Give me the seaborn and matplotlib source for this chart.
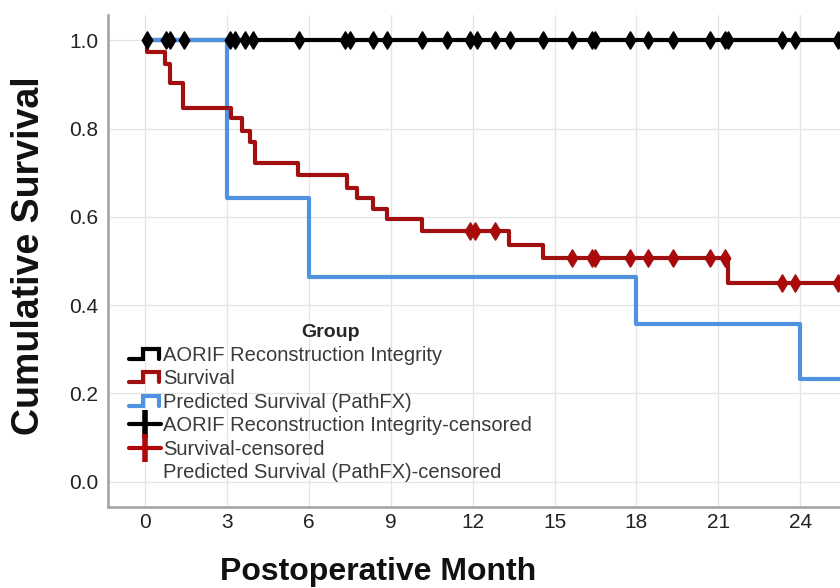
import matplotlib
matplotlib.use("Agg")
import matplotlib.pyplot as plt
import numpy as np
import pandas as pd
import seaborn as sns
from matplotlib.legend_handler import HandlerBase
from matplotlib.lines import Line2D

# Kaplan-Meier step data (months, cumulative survival)
aorif_times = [0, 25.6]
aorif_surv = [1.0, 1.0]
aorif_censored = [0.07, 0.78, 0.92, 1.42, 3.11, 3.3, 3.66, 3.97, 5.62, 7.33, 7.51,
                  8.36, 8.85, 10.13, 11.05, 11.9, 12.15, 12.82, 13.37, 14.59, 15.63,
                  16.36, 16.48, 17.77, 18.44, 19.35, 20.7, 21.25, 21.37, 23.32, 23.81, 25.4]

surv_times = [0, 0.06, 0.73, 0.92, 1.40, 3.14, 3.54, 3.85, 4.03, 5.60, 7.39, 7.75,
              8.36, 8.85, 10.15, 13.35, 14.59, 21.37, 25.6]
surv_vals = [1.0, 0.974, 0.947, 0.902, 0.847, 0.823, 0.795, 0.770, 0.721, 0.695, 0.666,
             0.642, 0.617, 0.594, 0.568, 0.537, 0.506, 0.451, 0.451]
surv_censored = [11.9, 12.1, 12.82, 15.63, 16.36, 16.48, 17.77, 18.44, 19.35, 20.7,
                 21.25, 23.32, 23.81, 25.4]

pathfx_times = [0, 3.0, 6.0, 18.0, 24.0, 25.6]
pathfx_vals = [1.0, 0.643, 0.464, 0.357, 0.232, 0.232]

x_ticks = [0, 3, 6, 9, 12, 15, 18, 21, 24]
y_ticks = [0.0, 0.2, 0.4, 0.6, 0.8, 1.0]

BLACK = "#000000"
RED = "#a01010"
RED_MARK = "#b00808"
BLUE = "#5092e0"


def step_value(times, vals, t):
    idx = np.searchsorted(times, t, side="right") - 1
    return np.array(vals)[idx]


class StepHandler(HandlerBase):
    def create_artists(self, legend, orig_handle, xdescent, ydescent, width, height,
                       fontsize, trans):
        xs = np.array([0.0, 0.45, 0.45, 0.95, 0.95]) * width - xdescent
        ys = np.array([0.15, 0.15, 0.85, 0.85, 0.15]) * height - ydescent
        line = Line2D(xs, ys, color=orig_handle.get_color(), lw=3, solid_joinstyle="miter")
        line.set_transform(trans)
        return [line]


sns.set_style("whitegrid")
plt.rcParams['font.family'] = ['Liberation Sans', 'DejaVu Sans']

fig = plt.figure(figsize=(8.4, 5.88), dpi=100)
ax = fig.add_axes([108 / 840, 81 / 588, 732 / 840, 492 / 588])

df_a = pd.DataFrame({'t': aorif_times, 's': aorif_surv})
df_s = pd.DataFrame({'t': surv_times, 's': surv_vals})
df_p = pd.DataFrame({'t': pathfx_times, 's': pathfx_vals})

sns.lineplot(data=df_a, x='t', y='s', ax=ax, color=BLACK, lw=3, drawstyle='steps-post',
             estimator=None, sort=False, zorder=2)
sns.lineplot(data=df_p, x='t', y='s', ax=ax, color=BLUE, lw=3, drawstyle='steps-post',
             estimator=None, sort=False, zorder=3)
sns.lineplot(data=df_s, x='t', y='s', ax=ax, color=RED, lw=3, drawstyle='steps-post',
             estimator=None, sort=False, zorder=4)

cen_a = pd.DataFrame({'t': aorif_censored,
                      's': step_value(aorif_times, aorif_surv, aorif_censored)})
cen_s = pd.DataFrame({'t': surv_censored,
                      's': step_value(surv_times, surv_vals, surv_censored)})
sns.scatterplot(data=cen_a, x='t', y='s', ax=ax, color=BLACK, marker='d', s=75,
                edgecolor=BLACK, linewidth=1.2, zorder=5)
sns.scatterplot(data=cen_s, x='t', y='s', ax=ax, color=RED_MARK, marker='d', s=75,
                edgecolor=RED, linewidth=1.2, zorder=6)

ax.set_xlim(-1.36, 25.46)
ax.set_ylim(-0.057, 1.057)
ax.set_xticks(x_ticks)
ax.set_yticks(y_ticks)
ax.set_yticklabels([f"{v:.1f}" for v in y_ticks])
ax.tick_params(axis='both', length=0, labelsize=15, colors='#222222')
ax.tick_params(axis='x', pad=4)
ax.tick_params(axis='y', pad=7)
ax.grid(True, color='#e4e4e4', lw=0.9)
for side in ['top', 'right']:
    ax.spines[side].set_visible(False)
for side in ['left', 'bottom']:
    ax.spines[side].set_visible(True)
    ax.spines[side].set_color('#a0a0a0')
    ax.spines[side].set_linewidth(1.8)

ax.set_xlabel('Postoperative Month', fontsize=23, fontweight='bold', color='#111111')
ax.set_ylabel('Cumulative Survival', fontsize=27, fontweight='bold', color='#111111')
ax.xaxis.set_label_coords(0.369, -0.102)
ax.yaxis.set_label_coords(-0.083, 0.51)

h_a = Line2D([], [], color=BLACK)
h_s = Line2D([], [], color=RED)
h_p = Line2D([], [], color=BLUE)
h_ac = Line2D([], [], color=BLACK, lw=3, marker='|', ms=20, mew=4)
h_sc = Line2D([], [], color=RED_MARK, lw=3, marker='|', ms=20, mew=4)
h_pc = Line2D([], [], color='none')
labels = ['AORIF Reconstruction Integrity', 'Survival', 'Predicted Survival (PathFX)',
          'AORIF Reconstruction Integrity-censored', 'Survival-censored',
          'Predicted Survival (PathFX)-censored']
leg = ax.legend([h_a, h_s, h_p, h_ac, h_sc, h_pc], labels, title='Group',
                loc='lower left', bbox_to_anchor=(0.01, 0.022), frameon=False,
                fontsize=14.5, title_fontsize=14, handlelength=1.55, handletextpad=0.1,
                labelspacing=0.22, borderpad=0.2,
                handler_map={h_a: StepHandler(), h_s: StepHandler(), h_p: StepHandler()})
leg.get_title().set_fontweight('bold')
for t in leg.get_texts():
    t.set_color('#3a3a3a')

fig.savefig('out.png', dpi=100)
